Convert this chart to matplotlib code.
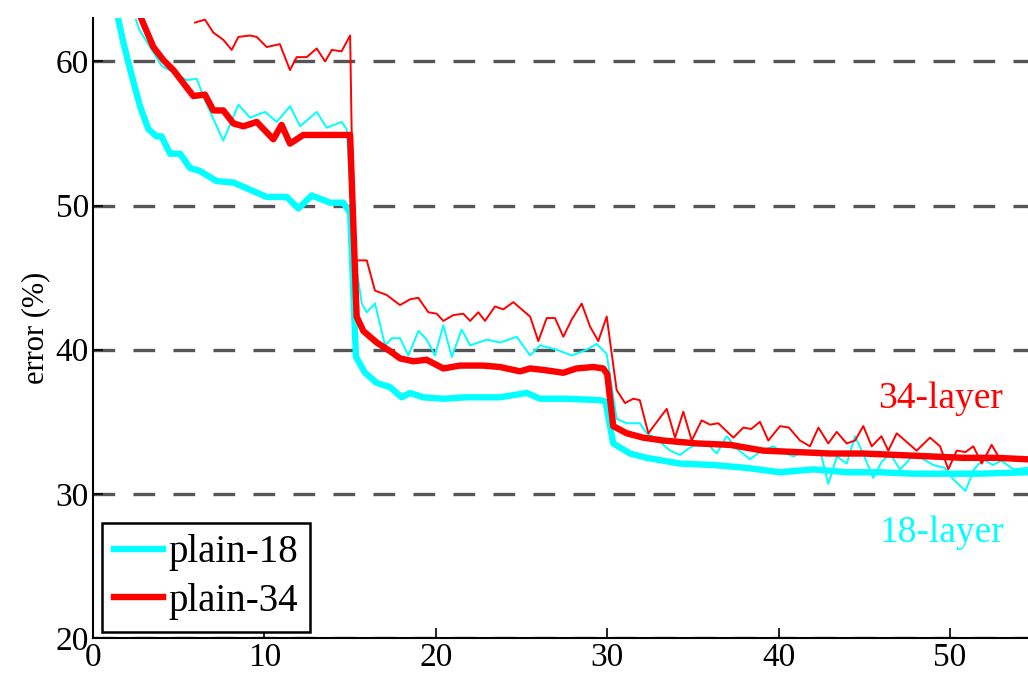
import matplotlib
matplotlib.use("Agg")
import matplotlib.pyplot as plt

# plain-18, training (thick) and validation (thin) error, epochs
p18_train_x = [1.48, 1.77, 2.26, 2.74, 3.23, 3.71, 4.0, 4.49, 5.08, 5.66, 6.24, 7.2, 8.19, 9.16,
               10.13, 11.3, 11.98, 12.76, 13.83, 14.6, 15.0, 15.34, 15.87, 16.55, 17.33, 18.01,
               18.5, 19.27, 20.44, 21.8, 23.75, 25.3, 26.08, 27.63, 29.58, 29.9, 30.35, 31.33,
               32.3, 34.25, 36.2, 38.14, 40.08, 42.03, 43.97, 45.92, 47.86, 49.8, 51.75, 54.5]
p18_train_y = [62.9, 61.3, 59.0, 56.9, 55.3, 54.8, 54.8, 53.6, 53.6, 52.6, 52.4, 51.7, 51.6, 51.1,
               50.6, 50.6, 49.8, 50.7, 50.2, 50.2, 49.5, 39.5, 38.4, 37.7, 37.4, 36.7,
               37.0, 36.7, 36.6, 36.7, 36.7, 37.0, 36.6, 36.6, 36.5, 36.4, 33.5, 32.8,
               32.5, 32.1, 32.0, 31.8, 31.5, 31.7, 31.5, 31.5, 31.4, 31.4, 31.4, 31.5]

p18_val_x = [2.5, 2.7, 4.0, 5.47, 6.05, 6.53, 7.6, 8.48, 9.16, 10.04, 10.72, 11.5, 12.08, 13.05,
             13.63, 14.51, 14.8, 15.2, 15.68, 15.97, 16.45, 17.04, 17.43, 17.91, 18.4, 18.98,
             19.47, 19.95, 20.44, 20.93, 21.51, 22.0, 22.97, 23.75, 24.72, 25.5, 26.08, 27.05,
             27.93, 28.8, 29.38, 29.97, 30.55, 31.14, 31.9, 32.3, 32.9, 33.66, 34.25, 34.8,
             35.41, 35.9, 36.39, 36.97, 37.6, 38.33, 38.9, 39.69, 40.2, 40.86, 41.6, 42.42,
             42.9, 43.4, 43.97, 44.46, 45.0, 45.52, 46.0, 46.5, 47.08, 47.5, 47.9, 49.02,
             49.7, 50.2, 50.9, 51.4, 51.94, 52.5, 53.0, 53.7, 54.5]
p18_val_y = [62.9, 62.2, 59.7, 58.7, 58.8, 57.3, 54.5, 57.0, 56.1, 56.5, 55.8, 56.9, 55.5, 56.5,
             55.4, 55.8, 55.3, 47.0, 43.2, 42.6, 43.2, 40.3, 40.8, 40.8, 39.6, 41.3,
             40.7, 39.6, 41.7, 39.5, 41.4, 40.3, 40.7, 40.5, 40.9, 39.6, 40.3, 40.0,
             39.6, 40.0, 40.4, 39.7, 35.2, 34.9, 34.9, 34.2, 33.8, 33.0, 32.7, 33.2,
             33.5, 33.4, 32.8, 34.0, 33.1, 32.4, 32.9, 33.3, 32.9, 32.6, 33.0, 33.0,
             30.7, 32.6, 32.1, 34.0, 32.6, 31.1, 32.2, 32.8, 31.7, 32.2, 32.8, 32.0,
             31.8, 31.0, 30.2, 31.7, 32.4, 32.0, 32.3, 31.7, 31.8]

# plain-34
p34_train_x = [2.84, 3.52, 4.1, 4.69, 5.27, 5.85, 6.53, 7.02, 7.6, 8.19, 8.77, 9.55, 10.52, 11.0,
               11.49, 12.27, 13.44, 15.0, 15.38, 15.77, 16.55, 17.33, 17.91, 18.69, 19.47,
               20.44, 21.41, 22.77, 23.75, 24.91, 25.5, 26.27, 27.44, 28.2, 29.19, 29.77, 30.0,
               30.35, 31.14, 32.1, 33.28, 34.25, 35.22, 37.16, 39.1, 41.05, 43.0, 44.94, 46.89,
               48.83, 50.78, 52.72, 54.5]
p34_train_y = [62.9, 61.0, 60.1, 59.4, 58.5, 57.6, 57.7, 56.6, 56.6, 55.7, 55.5, 55.8, 54.6, 55.6,
               54.3, 54.9, 54.9, 54.9, 42.3, 41.3, 40.5, 39.9, 39.4, 39.2, 39.3,
               38.7, 38.9, 38.9, 38.8, 38.5, 38.7, 38.6, 38.4, 38.7, 38.8, 38.7, 38.3,
               34.7, 34.2, 33.9, 33.7, 33.6, 33.5, 33.4, 33.0, 32.9, 32.8, 32.8, 32.7,
               32.6, 32.5, 32.5, 32.4]

p34_val_x = [5.95, 6.53, 7.02, 7.6, 8.09, 8.48, 9.16, 9.55, 10.13, 10.9, 11.49, 11.88, 12.47,
             13.05, 13.54, 13.93, 14.5, 15.0, 15.2, 15.38, 15.97, 16.45, 17.13, 17.91, 18.5,
             18.98, 19.56, 20.05, 20.44, 21.02, 21.6, 22.0, 22.48, 22.87, 23.45, 23.94, 24.52,
             25.01, 25.5, 25.98, 26.47, 26.95, 27.44, 27.93, 28.51, 29.0, 29.48, 29.97, 30.55,
             31.04, 31.52, 31.9, 32.4, 32.9, 33.47, 33.96, 34.44, 34.93, 35.51, 36.0, 36.48,
             37.36, 37.94, 38.4, 38.91, 39.4, 40.08, 40.6, 41.25, 41.83, 42.32, 42.9, 43.39,
             43.97, 44.46, 44.94, 45.43, 46.0, 46.4, 46.89, 47.57, 48.05, 48.83, 49.42, 49.9,
             50.39, 50.9, 51.36, 51.85, 52.43, 52.82, 53.5, 54.5]
p34_val_y = [62.7, 62.9, 62.0, 61.5, 60.8, 61.7, 61.8, 61.7, 61.0, 61.2, 59.4, 60.3, 60.3,
             60.9, 60.0, 60.8, 60.7, 61.8, 47.0, 46.2, 46.2, 44.1, 43.8, 43.1, 43.5,
             43.6, 42.6, 42.5, 42.0, 42.4, 42.5, 42.0, 42.6, 42.0, 43.0, 42.8, 43.3,
             42.8, 42.3, 40.6, 42.2, 42.2, 40.9, 42.1, 43.2, 41.6, 40.6, 42.3, 37.2,
             36.3, 36.6, 36.5, 34.2, 35.0, 35.9, 33.9, 35.7, 33.7, 35.1, 34.8, 34.9,
             33.9, 34.6, 34.5, 35.0, 33.7, 34.7, 34.6, 33.7, 33.3, 34.6, 33.5, 34.3,
             33.5, 33.7, 34.7, 33.3, 34.0, 33.0, 34.2, 33.5, 33.0, 33.9, 33.3, 31.7,
             33.0, 32.9, 33.3, 32.1, 33.4, 32.6, 32.5, 32.5]

yticks = [20, 30, 40, 50, 60]
xticks = [0, 10, 20, 30, 40, 50]

CYAN = "#00ffff"
RED = "#ff0000"
SERIF = ["Liberation Serif", "DejaVu Serif"]

plt.rcParams["font.family"] = SERIF

fig = plt.figure(figsize=(10.28, 6.74), dpi=100)
ax = fig.add_axes([0.0905, 0.0534, 0.9095, 0.9196])

for y in yticks:
    ax.axhline(y, color="#555555", lw=2.4, ls=(0, (6.5, 5.5)), zorder=0)

ax.plot(p18_val_x, p18_val_y, color=CYAN, lw=1.4)
ax.plot(p34_val_x, p34_val_y, color=RED, lw=1.4)
ax.plot(p18_train_x, p18_train_y, color=CYAN, lw=4.6, label="plain-18")
ax.plot(p34_train_x, p34_train_y, color=RED, lw=4.6, label="plain-34")

ax.set_xlim(0, 54.55)
ax.set_ylim(20, 63.0)
ax.set_xticks(xticks)
ax.set_yticks(yticks)
ax.tick_params(direction="in", length=7, width=1.2, labelsize=24, pad=3)
ax.spines["top"].set_visible(False)
ax.spines["right"].set_visible(False)
for s in ("left", "bottom"):
    ax.spines[s].set_linewidth(1.5)
ax.set_ylabel("error (%)", fontsize=22, labelpad=4)

ax.text(0.907, 0.3705, "34-layer", color=RED, fontsize=27, ha="center", va="baseline",
        transform=ax.transAxes)
ax.text(0.908, 0.1553, "18-layer", color=CYAN, fontsize=27, ha="center", va="baseline",
        transform=ax.transAxes)

leg = ax.legend(loc="lower left", bbox_to_anchor=(0.0099, 0.0102), borderaxespad=0,
                fontsize=28, handlelength=1.25, handletextpad=0.15, labelspacing=0.3,
                borderpad=0.3, fancybox=False, framealpha=1)
leg.get_frame().set_edgecolor("black")
leg.get_frame().set_linewidth(1.8)

fig.savefig("out.png", dpi=100)
